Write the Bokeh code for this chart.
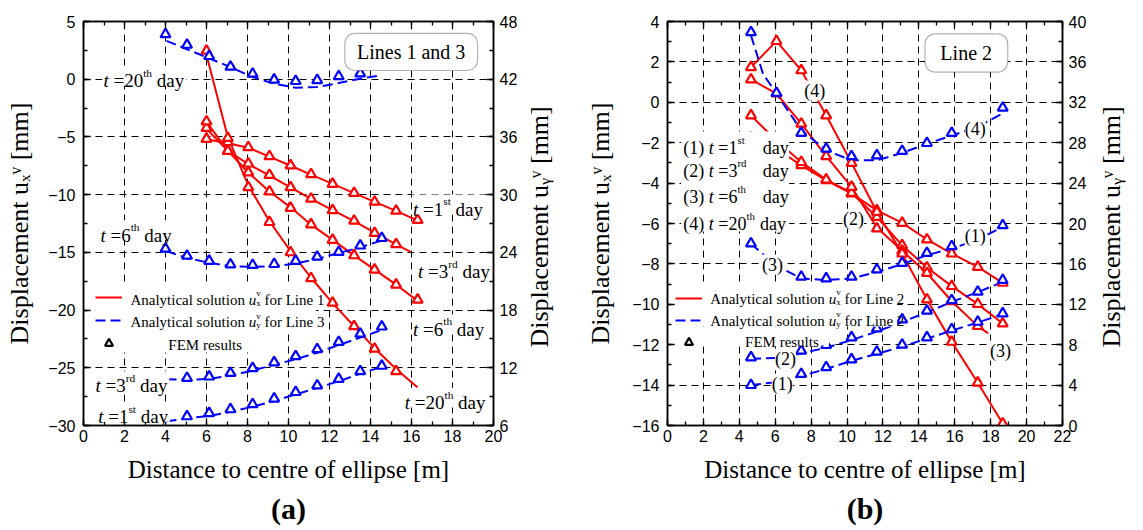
import math
from bokeh.plotting import figure
from bokeh.models import (Range1d, LinearAxis, FixedTicker, Label, BoxAnnotation,
                          Legend, LegendItem, Title, CustomJSTickFormatter)
from bokeh.layouts import row
from bokeh.embed import file_html
from bokeh.resources import INLINE

# ---------------- DATA : panel (a) Lines 1 and 3 ----------------
xa_fem = [6.0, 7.04, 8.04, 9.07, 10.1, 11.1, 12.15, 13.2, 14.2, 15.25, 16.3]
ux1_day1_fem = [-5.17, -5.45, -5.9, -6.68, -7.47, -8.24, -9.07, -9.86, -10.62, -11.4, -12.2]
ux1_day3_fem = [-4.23, -6.22, -7.31, -8.3, -9.36, -10.36, -11.35, -12.26, -13.33, -14.3]
ux1_day6_fem = [-3.66, -6.22, -8.08, -9.73, -11.15, -12.58, -13.92, -15.26, -16.5, -17.8, -19.1]
ux1_day20_fem = [2.46, -5.1, -9.36, -12.38, -15.0, -17.25, -19.37, -21.4, -23.35, -25.3]

xa_line = [6.0, 7.04, 8.04, 9.07, 10.1, 11.1, 12.15, 13.2, 14.2, 15.25, 16.3]
xa_line_d3 = [6.0, 7.04, 8.04, 9.07, 10.1, 11.1, 12.15, 13.2, 14.2, 15.25, 15.95]
ux1_day1_line = [-5.2, -5.55, -5.94, -6.71, -7.5, -8.27, -9.07, -9.87, -10.62, -11.4, -12.25]
ux1_day3_line = [-4.3, -6.2, -7.35, -8.36, -9.36, -10.36, -11.35, -12.3, -13.3, -14.3, -14.95]
ux1_day6_line = [-3.7, -6.2, -8.08, -9.73, -11.1, -12.6, -13.92, -15.26, -16.5, -17.8, -19.2]
ux1_day20_line = [2.1, -5.0, -9.2, -12.3, -14.9, -17.2, -19.4, -21.4, -23.3, -25.1, -26.7]

xb_fem = [4.0, 5.05, 6.13, 7.17, 8.25, 9.3, 10.35, 11.4, 12.45, 13.5, 14.55]
uy3_day20_fem = [46.67, 45.57, 44.4, 43.3, 42.56, 41.95, 41.8, 41.9, 42.3, 42.6]
uy3_day6_fem = [24.38, 23.64, 23.11, 22.74, 22.68, 22.78, 23.11, 23.54, 24.04, 24.7, 25.48]
uy3_day3_fem = [10.94, 11.08, 11.46, 11.96, 12.56, 13.2, 13.92, 14.68, 15.53, 16.28]
uy3_day1_fem = [6.95, 7.28, 7.68, 8.2, 8.79, 9.47, 10.16, 10.84, 11.64, 12.2]

xb_line = [4.05, 5.05, 6.13, 7.17, 8.25, 9.3, 10.35, 11.4, 12.45, 13.5, 14.5]
uy3_day20_line = [45.98, 45.12, 44.17, 43.25, 42.23, 41.54, 41.12, 41.2, 41.6, 42.05, 42.41]
uy3_day6_line = [24.12, 23.41, 22.92, 22.56, 22.49, 22.56, 22.84, 23.32, 23.93, 24.52, 25.2]
uy3_day3_line = [10.8, 10.76, 10.84, 11.18, 11.72, 12.31, 12.89, 13.57, 14.36, 15.14, 15.9]
uy3_day1_line = [6.43, 6.74, 7.0, 7.42, 7.97, 8.54, 9.23, 9.91, 10.6, 11.39, 12.07]

# ---------------- DATA : panel (b) Line 2 ----------------
xr = [4.65, 6.07, 7.45, 8.84, 10.25, 11.66, 13.07, 14.45, 15.83, 17.28, 18.67]
ux2_day1 = [-1.75, -2.3, -3.12, -3.86, -4.52, -5.35, -5.97, -6.79, -7.49, -8.15, -8.94]
ux2_day3 = [-0.65, -1.9, -2.96, -3.83, -4.49, -5.68, -7.08, -8.18, -9.1, -9.99, -10.95]
ux2_day6 = [1.13, 0.43, -1.06, -2.67, -4.19, -6.25, -7.35, -8.45, -9.85, -11.08]
ux2_day20 = [1.74, 3.03, 1.58, -0.65, -3.0, -5.43, -7.49, -9.76, -11.86, -13.88, -15.9]
xr_d6_line = [4.65, 6.07, 7.45, 8.84, 10.25, 11.66, 13.07, 14.45, 15.83, 17.28, 17.86]
ux2_day6_line = [1.13, 0.43, -1.06, -2.67, -4.19, -6.2, -7.35, -8.45, -9.85, -11.08, -11.44]

xr_fem_b = [4.65, 7.45, 8.84, 10.25, 11.66, 13.07, 14.45, 15.83, 17.28, 18.67]
uy2_day1_fem = [4.0, 5.1, 5.76, 6.54, 7.3, 8.0, 8.72, 9.52, 10.26, 11.1]
uy2_day3_fem = [6.74, 7.4, 7.96, 8.72, 9.6, 10.5, 11.36, 12.4, 13.24, 14.4]
xr_fem_6 = [4.65, 7.45, 8.84, 10.25, 11.66, 13.07, 14.45, 15.83, 18.67]
uy2_day6_fem = [18.02, 14.72, 14.56, 14.72, 15.44, 16.1, 17.08, 17.74, 19.82]
xr_fem_20 = [4.65, 6.07, 7.45, 8.84, 10.25, 11.66, 13.07, 14.45, 15.83, 18.67]
uy2_day20_fem = [38.94, 32.92, 28.96, 27.4, 26.66, 26.74, 27.18, 27.96, 28.96, 31.46]

xr_line20 = [4.65, 5.32, 6.07, 7.45, 8.84, 10.25, 11.66, 13.07, 14.45, 15.83, 17.28, 18.67]
uy2_day20_line = [38.62, 34.82, 32.86, 29.22, 27.24, 26.26, 26.26, 26.98, 27.9, 28.7, 29.6, 30.9]
uy2_day6_line = [18.0, 15.8, 14.56, 14.4, 14.56, 15.2, 15.98, 16.86, 17.52, 18.4, 19.66]
uy2_day3_line = [6.6, 6.68, 7.14, 7.7, 8.46, 9.3, 10.26, 11.2, 12.24, 13.2, 14.22]
uy2_day1_line = [4.0, 4.3, 4.9, 5.6, 6.4, 7.1, 7.8, 8.6, 9.4, 10.2, 11.0]

# ---------------- STYLE ----------------
SERIF = "Liberation Serif"
SANS = "Liberation Sans"
RED = "#ff0000"
BLUE = "#0000ff"
NB = "\u00a0"

TW = {' ': 250, '(': 333, ')': 333, '[': 333, ']': 333, '=': 564, 'A': 722, 'D': 722,
      'E': 611, 'F': 556, 'L': 611, 'M': 889, 'a': 444, 'b': 500, 'c': 444, 'd': 500,
      'e': 444, 'f': 333, 'h': 500, 'i': 278, 'l': 278, 'm': 778, 'n': 500, 'o': 500,
      'p': 500, 'r': 333, 's': 389, 't': 278, 'u': 500, 'v': 500, 'x': 500, 'y': 500}


def tw(s, size):
    return sum(TW.get(c, 500) for c in s) * size / 1000.0


class Panel:
    def __init__(self, fig, left, top, kx, ky, x0, y0):
        self.p, self.left, self.top, self.kx, self.ky, self.x0, self.y0 = fig, left, top, kx, ky, x0, y0

    def X(self, px):
        return self.x0 + (px - self.left) / self.kx

    def Y(self, py):
        return self.y0 - (py - self.top) / self.ky


def put(P, px, py, text, size, style, xo, yo):
    P.p.add_layout(Label(x=P.X(px), y=P.Y(py), text=text.replace(" ", NB),
                         x_offset=xo, y_offset=yo, text_font=SERIF,
                         text_font_size=f"{size:.1f}px", text_font_style=style,
                         text_color="black", text_baseline="alphabetic", text_align="left"))


def rich(P, px, py, parts, size):
    adv = 0.0
    for txt, kind in parts:
        if kind == "subsup":
            ss = size * 0.6
            sub, sup = txt
            put(P, px, py, sub, ss, "normal", adv, -0.2 * size)
            put(P, px, py, sup, ss, "normal", adv, 0.42 * size)
            adv += max(tw(sub, ss), tw(sup, ss))
            continue
        if kind in ("sup", "sub"):
            ss = size * 0.6
            sh = 0.42 * size if kind == "sup" else -0.2 * size
            style = "normal"
        else:
            ss = size
            sh = 0.0
            style = {"n": "normal", "i": "italic", "b": "bold"}[kind]
        put(P, px, py, txt, ss, style, adv, sh)
        adv += tw(txt, ss)
    return adv


def wbox(P, l, r, t, b, radius=0, border=False):
    P.p.add_layout(BoxAnnotation(left=P.X(l), right=P.X(r), top=P.Y(t), bottom=P.Y(b),
                                 fill_color="white", fill_alpha=1.0,
                                 line_color="black" if border else None, line_width=1.2,
                                 border_radius=radius))


def tag(P, cx, cy, text, size=18):
    P.p.add_layout(Label(x=P.X(cx), y=P.Y(cy), text=text, text_font=SERIF,
                         text_font_size=f"{size}px", text_align="center", text_baseline="middle",
                         text_color="black",
                         background_fill_color="white", background_fill_alpha=1.0))


def make_fig(W, xrng, yrng, yrng2, bl, br, bt, bb, xmaj, xmin, ymaj, ymin, y2maj, y2min,
             ylab, y2lab, ylab_so, y2lab_so, title_so, xlab_so, title):
    p = figure(width=W, height=530, x_range=Range1d(*xrng), y_range=Range1d(*yrng),
               output_backend="svg", toolbar_location=None, min_border_left=bl,
               min_border_right=br, min_border_top=bt, min_border_bottom=bb,
               background_fill_color="white", border_fill_color="white")
    p.extra_y_ranges = {"r": Range1d(*yrng2)}
    p.xaxis.ticker = FixedTicker(ticks=xmaj, minor_ticks=xmin)
    p.yaxis.ticker = FixedTicker(ticks=ymaj, minor_ticks=ymin)
    ax_r = LinearAxis(y_range_name="r", ticker=FixedTicker(ticks=y2maj, minor_ticks=y2min))
    p.add_layout(ax_r, "right")
    ax_t = LinearAxis(ticker=FixedTicker(ticks=xmaj, minor_ticks=xmin),
                      formatter=CustomJSTickFormatter(code="return ''"),
                      major_label_standoff=0)
    p.add_layout(ax_t, "above")
    for ax in p.axis:
        ax.axis_line_color = "black"
        ax.axis_line_width = 1.5
        ax.major_tick_in = 7
        ax.major_tick_out = 0
        ax.minor_tick_in = 4
        ax.minor_tick_out = 0
        ax.major_tick_line_color = "black"
        ax.minor_tick_line_color = "black"
        ax.major_tick_line_width = 1.3
        ax.minor_tick_line_width = 1.3
        ax.major_label_text_font = SANS
        ax.major_label_text_font_size = "16px"
        ax.major_label_text_color = "black"
        ax.axis_label_text_font = SERIF
        ax.axis_label_text_font_style = "normal"
        ax.axis_label_text_color = "black"
    xb = p.below[0]
    xb.major_label_standoff = 4
    xb.axis_label = "Distance to centre of ellipse [m]"
    xb.axis_label_text_font_size = "25px"
    xb.axis_label_standoff = xlab_so
    yl = p.left[0]
    yl.major_label_standoff = 8
    yl.axis_label = ylab
    yl.axis_label_text_font_size = "26px"
    yl.axis_label_standoff = ylab_so
    ax_r.major_label_standoff = 6
    ax_r.axis_label = NB * 12 + y2lab
    ax_r.axis_label_text_font_size = "26px"
    ax_r.axis_label_standoff = y2lab_so
    ax_r.axis_label_orientation = math.pi / 2
    ax_r.axis_label_align = "start"
    p.add_layout(Title(text=title, align="center", text_font=SERIF, text_font_size="30px",
                       text_font_style="bold", text_color="black", standoff=title_so), "below")
    p.xgrid.ticker = FixedTicker(ticks=xmaj)
    p.ygrid.ticker = FixedTicker(ticks=ymaj)
    for g in (p.xgrid, p.ygrid):
        g.grid_line_color = "black"
        g.grid_line_dash = "7 5"
        g.grid_line_width = 1
        g.grid_line_alpha = 1.0
    p.outline_line_color = "black"
    p.outline_line_width = 1.5
    return p


def tri(p, x, y, color, y_range_name="default"):
    return p.scatter(x, y, marker="triangle", size=10, fill_color="white",
                     line_color=color, line_width=2.2, y_range_name=y_range_name)


def key_marker(p, x, y, y_range_name="default"):
    # FEM legend key: a black triangle glyph kept tiny and drawn underneath the
    # white-filled coloured FEM triangles of the same series (so it stays hidden)
    return p.scatter(x, y, marker="triangle", size=1, fill_color="white",
                     line_color="black", line_width=2.2, y_range_name=y_range_name)


def make_legend(P, renderers, loc, lw, spacing):
    leg = Legend(items=[LegendItem(label=" ", renderers=[r]) for r in renderers],
                 location=loc, margin=0, padding=5, spacing=spacing, glyph_width=27,
                 glyph_height=20, label_height=20, label_width=lw, label_text_font_size="12px",
                 border_line_color=None, background_fill_alpha=0.0)
    P.p.add_layout(leg, "center")


# =================== PANEL (a) ===================
p1 = make_fig(571, (0, 20), (-30, 5), (6, 48), 83, 77, 17, 104,
              list(range(0, 21, 2)), list(range(0, 21, 1)),
              list(range(-30, 6, 5)), [v / 2 for v in range(-60, 11, 5)],
              list(range(6, 49, 6)), list(range(6, 49, 3)),
              "Displacement u\u2093\u1d5b [mm]", "Displacement u\u1d67\u1d5b [mm]",
              11, 19, 9, 11, "(a)")
A = Panel(p1, 83, 17, 411 / 20, 409 / 35, 0, 5)

red_lines_a = []
for xs, ys in ((xa_line, ux1_day1_line), (xa_line_d3, ux1_day3_line),
               (xa_line, ux1_day6_line), (xa_line, ux1_day20_line)):
    red_lines_a.append(p1.line(xs, ys, line_color=RED, line_width=2))
blue_lines_a = []
for ys in (uy3_day20_line, uy3_day6_line, uy3_day3_line, uy3_day1_line):
    blue_lines_a.append(p1.line(xb_line, ys, line_color=BLUE, line_width=2,
                                line_dash="10 5", y_range_name="r"))
key_a = key_marker(p1, xa_fem, ux1_day1_fem)
tri(p1, xa_fem, ux1_day1_fem, RED)
tri(p1, xa_fem[:10], ux1_day3_fem, RED)
tri(p1, xa_fem, ux1_day6_fem, RED)
tri(p1, xa_fem[:10], ux1_day20_fem, RED)
tri(p1, xb_fem[:10], uy3_day20_fem, BLUE, "r")
tri(p1, xb_fem, uy3_day6_fem, BLUE, "r")
tri(p1, xb_fem[1:], uy3_day3_fem, BLUE, "r")
tri(p1, xb_fem[1:], uy3_day1_fem, BLUE, "r")

# legend background, then legend glyphs and texts
wbox(A, 95, 316, 284, 330)
wbox(A, 95, 255, 330, 352)
make_legend(A, [red_lines_a[0], blue_lines_a[0], key_a], (12, 72), 188, 3)

day_a = [((103, 77), "20", "th"), ((100, 233.3), "6", "th"), ((95, 386), "3", "rd"),
         ((97.7, 417.3), "1", "st"), ((413.3, 207.2), "1", "st"), ((418.3, 270.5), "3", "rd"),
         ((413.3, 328.5), "6", "th"), ((405, 402.7), "20", "th")]
for (px, py), num, suf in day_a:
    parts = [("t", "i"), (" =" + num, "n"), (suf, "sup"), (" day", "n")]
    w = sum(tw(t, 19 * (0.6 if k == "sup" else 1)) for t, k in parts)
    wbox(A, px - 1, px + w + 2, py - 15, py + 5)
    rich(A, px, py, parts, 19)

wbox(A, 345, 478, 29, 66.6, radius=10, border=True)
A.p.add_layout(Label(x=A.X(411.5), y=A.Y(48), text="Lines 1 and 3", text_font=SERIF,
                     text_font_size="20px", text_align="center", text_baseline="middle",
                     text_color="black"))

rich(A, 130, 298.5, [("Analytical solution ", "n"), ("u", "i"), (("x", "v"), "subsup"),
                     (" for Line 1", "n")], 15)
rich(A, 130, 321.7, [("Analytical solution ", "n"), ("u", "i"), (("y", "v"), "subsup"),
                     (" for Line 3", "n")], 15)
rich(A, 168, 344, [("FEM results", "n")], 15)

# =================== PANEL (b) ===================
p2 = make_fig(572, (0, 22), (-16, 4), (0, 40), 96, 70, 21, 105,
              list(range(0, 23, 2)), list(range(0, 23, 1)),
              list(range(-16, 5, 2)), list(range(-16, 5, 1)),
              list(range(0, 41, 4)), list(range(0, 41, 2)),
              "Displacement u\u2093\u1d5b [mm]", "Displacement u\u1d67\u1d5b [mm]",
              14, 22, 9, 11, "(b)")
B = Panel(p2, 96, 21, 406 / 22, 404 / 20, 0, 4)
OFF = 571  # left edge of panel (b) in page pixels

red_lines_b = []
for xs, ys in ((xr, ux2_day1), (xr, ux2_day3), (xr_d6_line, ux2_day6_line), (xr, ux2_day20)):
    red_lines_b.append(p2.line(xs, ys, line_color=RED, line_width=2))
blue_lines_b = []
for xs, ys in ((xr, uy2_day1_line), (xr, uy2_day3_line), (xr, uy2_day6_line),
               (xr_line20, uy2_day20_line)):
    blue_lines_b.append(p2.line(xs, ys, line_color=BLUE, line_width=2, line_dash="10 5",
                                y_range_name="r"))
key_b = key_marker(p2, xr, ux2_day20)
tri(p2, xr, ux2_day1, RED)
tri(p2, xr, ux2_day3, RED)
tri(p2, xr[:10], ux2_day6, RED)
tri(p2, xr, ux2_day20, RED)
tri(p2, xr_fem_b, uy2_day1_fem, BLUE, "r")
tri(p2, xr_fem_b, uy2_day3_fem, BLUE, "r")
tri(p2, xr_fem_6, uy2_day6_fem, BLUE, "r")
tri(p2, xr_fem_20, uy2_day20_fem, BLUE, "r")

wbox(B, 681 - OFF, 792 - OFF, 131, 231)
rows_b = [(147, "(1) ", "1", "st", 765), (170.5, "(2) ", "3", "rd", 765),
          (196, "(3) ", "6", "th", 765), (223, "(4) ", "20", "th", 762)]
for py, lab, num, suf, dx in rows_b:
    rich(B, 683.3 - OFF, py, [(lab, "n"), ("t", "i"), (" =" + num, "n"), (suf, "sup")], 18)
    rich(B, dx - OFF, py, [("day", "n")], 18)

wbox(B, 675 - OFF, 903 - OFF, 283, 326)
wbox(B, 675 - OFF, 833 - OFF, 326, 345)
make_legend(B, [red_lines_b[0], blue_lines_b[0], key_b], (8, 73), 186, 2)

for cx, cy, t in ((818.3, 90, "(4)"), (858.3, 218.3, "(2)"), (775, 264, "(3)"),
                  (788.3, 358.3, "(2)"), (785, 383.3, "(1)"), (983.3, 235, "(1)"),
                  (983.3, 128.3, "(4)"), (1009.3, 350, "(3)")):
    tag(B, cx - OFF, cy, t)

wbox(B, 931.7 - OFF, 1016.7 - OFF, 33.3, 71.7, radius=10, border=True)
B.p.add_layout(Label(x=B.X(974 - OFF), y=B.Y(52.5), text="Line 2", text_font=SERIF,
                     text_font_size="20px", text_align="center", text_baseline="middle",
                     text_color="black"))

rich(B, 711 - OFF, 298, [("Analytical solution ", "n"), ("u", "i"), (("x", "v"), "subsup"),
                         (" for Line 2", "n")], 15)
rich(B, 711 - OFF, 320, [("Analytical solution ", "n"), ("u", "i"), (("y", "v"), "subsup"),
                         (" for Line 2", "n")], 15)
rich(B, 746.7 - OFF, 341, [("FEM results", "n")], 15)

layout = row(p1, p2)
open("out.html", "w").write(file_html(layout, INLINE))
